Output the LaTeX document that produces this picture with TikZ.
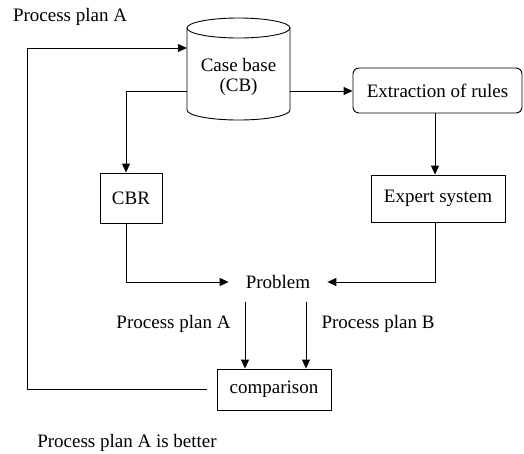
\documentclass[tikz,border=0pt]{standalone}
\usepackage{fontspec}
\setmainfont{Liberation Serif}
\usetikzlibrary{arrows.meta}
\begin{document}
\begin{tikzpicture}[x=1pt,y=-1pt,
  every node/.style={font=\fontsize{19}{20}\selectfont},
  box/.style={draw,line width=0.9pt,inner sep=0pt},
  arr/.style={line width=0.9pt,-{Triangle[length=9pt,width=8pt]}},
  ln/.style={line width=0.9pt}]
\useasboundingbox (0,0) rectangle (524,453);
% case base cylinder
\node[minimum width=103pt,minimum height=102pt,inner sep=0pt] (cb) at (238.5,69) {};
\draw[ln] ([shift={(-51.5pt,41pt)}]cb.center) -- ([shift={(-51.5pt,-41pt)}]cb.center)
  arc[start angle=180,end angle=360,x radius=51.5pt,y radius=10pt]
  -- ([shift={(51.5pt,41pt)}]cb.center);
\draw[ln] ([shift={(0pt,41pt)}]cb.center) ellipse[x radius=51.5pt,y radius=10pt];
\node[align=center,inner sep=0pt] (cbt) at (238.5,77) {Case base\\(CB)};
\node[box,rounded corners=6pt,minimum width=169pt,minimum height=45pt] (ext) at (437.5,90.5) {Extraction of rules};
\node[box,minimum width=62pt,minimum height=50pt] (cbr) at (131,198) {CBR};
\node[box,minimum width=134pt,minimum height=47pt] (exp) at (438,198.5) {Expert system};
\node[inner xsep=17pt,inner ysep=13pt] (prob) at (278,282) {Problem};
\node[box,minimum width=114pt,minimum height=41pt] (cmp) at (274,389.5) {comparison};
\node (t1) at (70,17) {Process plan A};
\node[anchor=east] (la) at (234,324) {Process plan A};
\node[anchor=west] (lb) at (318,324) {Process plan B};
\node (t2) at (127,443) {Process plan A is better};
\coordinate (lc) at (27,48);
\coordinate (cbl) at ([yshift=-22pt]cb.west);
\coordinate (cbr0) at ([yshift=-22pt]cb.east);
\coordinate (xv) at (435,0);
\coordinate (pa) at ([xshift=-33pt]prob.south);
\coordinate (pb) at ([xshift=28pt]prob.south);
\draw[arr,shorten <=10pt] (cmp.west) -| (lc) -- (cb.west |- lc);
\draw[arr] (cbl) -| ([xshift=-5pt]cbr.north);
\draw[arr] (cbr0) -- (ext.west |- cbr0);
\draw[arr] (ext.south -| xv) -- (exp.north -| xv);
\draw[arr] ([xshift=-5pt]cbr.south) |- (prob.west);
\draw[arr] (exp.south -| xv) |- (prob.east);
\draw[arr] (pa) -- (pa |- cmp.north);
\draw[arr] (pb) -- (pb |- cmp.north);
\end{tikzpicture}
\end{document}
